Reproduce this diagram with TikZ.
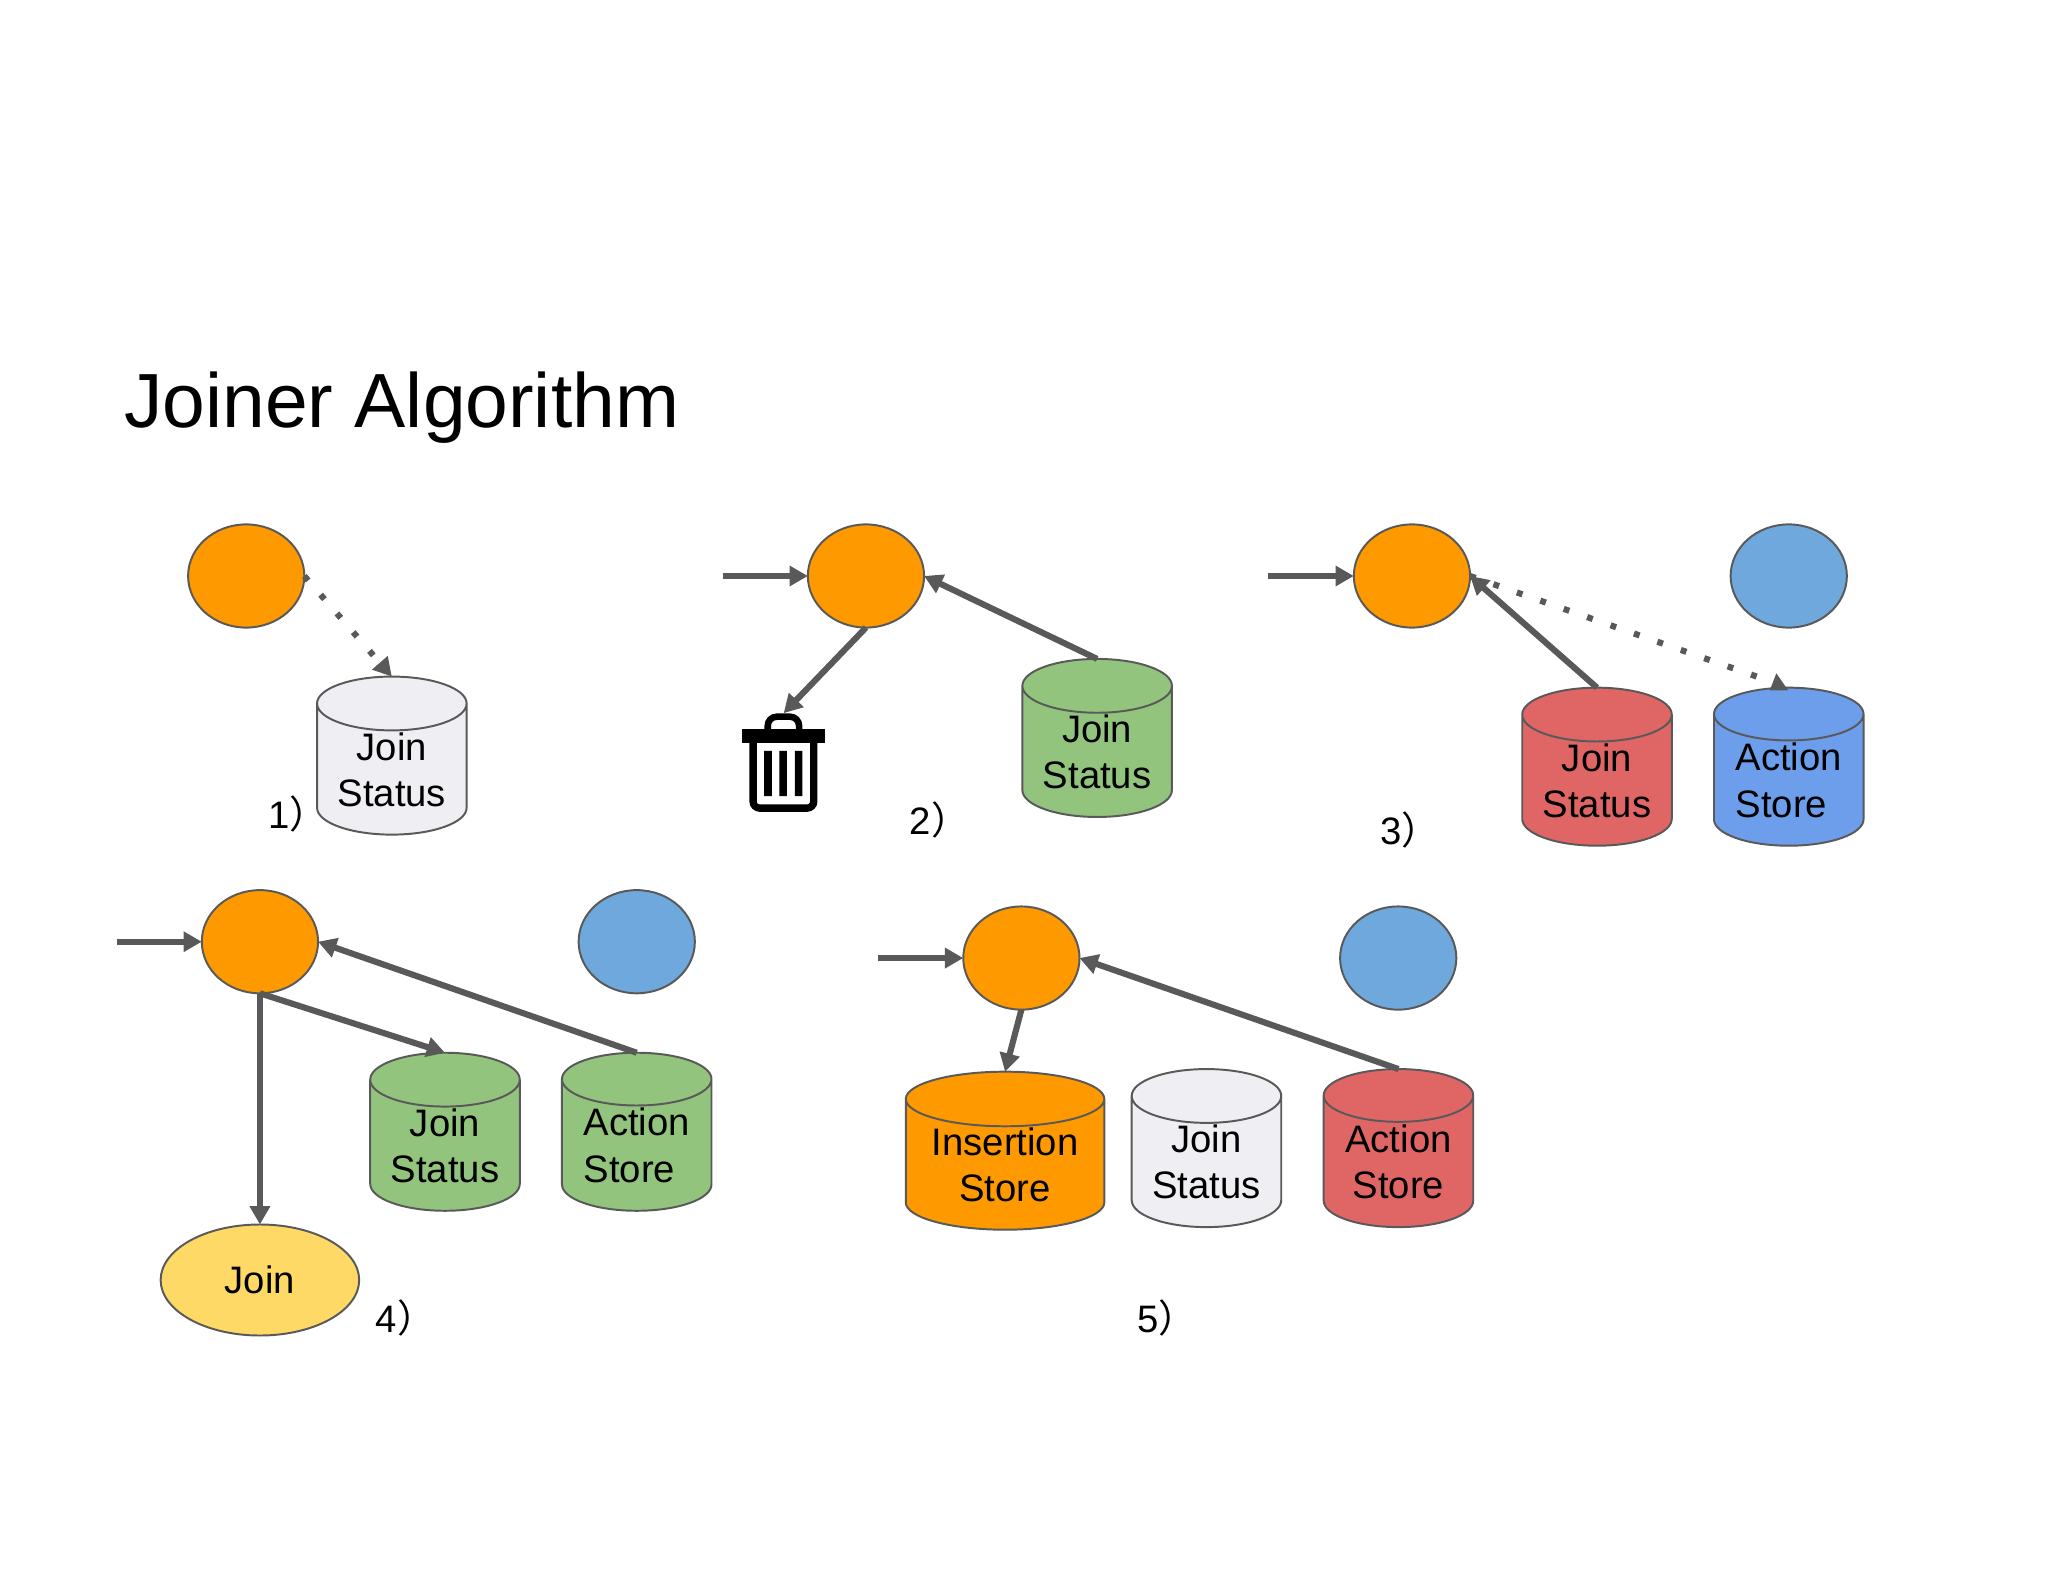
\documentclass[tikz,border=0pt]{standalone}
\usepackage{fontspec}
\setmainfont{Liberation Sans}
\newfontfamily\cjk{Noto Sans CJK SC}
\usetikzlibrary{arrows.meta,shapes.geometric,shapes.symbols}
\definecolor{linec}{HTML}{595959}
\definecolor{oran}{HTML}{FF9900}
\definecolor{greyf}{HTML}{EFEFF3}
\definecolor{greenf}{HTML}{93C47D}
\definecolor{redf}{HTML}{E06666}
\definecolor{bluef}{HTML}{6D9EEB}
\definecolor{circb}{HTML}{6FA8DC}
\definecolor{yelf}{HTML}{FFD966}
\tikzset{
  x=1pt,y=-1pt,
  lab/.style={font=\fontsize{29.3}{35.5}\selectfont,text=black},
  orb/.style={ellipse,draw=linec,line width=1.5pt,fill=#1,minimum width=89pt,minimum height=79pt,inner sep=0pt,outer sep=0pt},
  cyl/.style={cylinder,shape border rotate=90,aspect=0.496,draw=linec,line width=1.5pt,
    cylinder uses custom fill,cylinder body fill=#1,cylinder end fill=#1,
    minimum width=114.5pt,minimum height=121pt,inner sep=0pt,outer sep=0pt,anchor=shape center,
    lab,align=center},
  cylw/.style={cyl=#1,minimum width=152pt,aspect=0.372},
  conn/.style={draw=linec,line width=4.7pt,-{Triangle[length=14pt,width=15pt]}},
  dotc/.style={conn,dash pattern=on 4.5pt off 14.5pt},
  stepl/.style={anchor=base west,lab,inner sep=0pt},
}
\newcommand{\stepnum}[1]{#1{\cjk ）}}
\begin{document}
\begin{tikzpicture}
\useasboundingbox (0,0) rectangle (1568,1211.3);
\fill[white] (0,0) rectangle (1568,1211.3);
\node[anchor=base west,font=\fontsize{58.8}{60}\selectfont,inner sep=0pt] (title) at (95,327) {Joiner Algorithm};

% 1
\node[orb=oran] (e1) at (188.5,441) {};
\node[cyl=greyf] (c1) at (300,578.5) {Join\\Status};
\draw[dotc] (e1.east) -- (c1.north);
\node[stepl] (s1) at (205.5,634) {\stepnum{1}};

% 2
\node[orb=oran] (e2) at (663,441) {};
\node[cyl=greenf] (c2) at (840,565) {Join\\Status};
\coordinate (i2) at (553.5,441);
\coordinate (trash) at (600,546);
\draw[conn] (i2) -- (e2.west);
\draw[conn] (c2.north) -- (e2.east);
\draw[conn] (e2.south) -- (trash);
\fill[black] (568,558.5) rectangle (631.7,569.2);
\draw[black,line width=5pt,rounded corners=7pt] (587.8,560) -- (587.8,548.7) -- (611.8,548.7) -- (611.8,560);
\draw[black,line width=5.6pt,rounded corners=5pt] (576.6,566) -- (576.6,618.7) -- (623,618.7) -- (623,566);
\fill[black] (585,574.8) rectangle (590.9,609.5) (596.7,574.8) rectangle (602.4,609.5) (608.5,574.8) rectangle (614.3,609.5);
\node[stepl] (s2) at (696.5,638.6) {\stepnum{2}};

% 3
\node[orb=oran] (e3) at (1081,441) {};
\node[orb=circb] (b3) at (1369.5,441) {};
\node[cyl=redf] (c3a) at (1222.7,587) {Join\\Status};
\node[cyl=bluef,align=left] (c3b) at (1369.5,587) {Action\\Store};
\coordinate (i3) at (971,441);
\coordinate (d3) at (1345,518);
\draw[conn] (i3) -- (e3.west);
\draw[conn] (c3a.north) -- (e3.east);
\draw[draw=linec,line width=4.7pt,dash pattern=on 4.5pt off 14.5pt] (e3.east) -- (d3);
\fill[linec] (1360,515.5) -- (1369,528.5) -- (1355,528.5) -- cycle;
\node[stepl] (s3) at (1056.5,646.3) {\stepnum{3}};

% 4
\node[orb=oran] (e4) at (199,721) {};
\node[orb=circb] (b4) at (487.5,721) {};
\node[cyl=greenf] (c4a) at (340.7,866.5) {Join\\Status};
\node[cyl=greenf,align=left] (c4b) at (487.5,866.5) {Action\\Store};
\node[ellipse,draw=linec,line width=1.5pt,fill=yelf,minimum width=152pt,minimum height=85pt,inner sep=0pt,outer sep=0pt,lab] (j4) at (199,980) {Join};
\coordinate (i4) at (89.5,721);
\draw[conn] (i4) -- (e4.west);
\draw[conn] (c4b.north) -- (e4.east);
\draw[conn] (e4.south) -- (c4a.north);
\draw[conn] (e4.south) -- (j4.north);
\node[stepl] (s4) at (287.5,1020) {\stepnum{4}};

% 5
\node[orb=oran] (e5) at (782,733.5) {};
\node[orb=circb] (b5) at (1070.5,733.5) {};
\node[cylw=oran] (c5a) at (769.5,881) {Insertion\\Store};
\node[cyl=greyf] (c5b) at (923.7,879) {Join\\Status};
\node[cyl=redf] (c5c) at (1070.7,879) {Action\\Store};
\coordinate (i5) at (672.5,733.5);
\draw[conn] (i5) -- (e5.west);
\draw[conn] (c5c.north) -- (e5.east);
\draw[conn] (e5.south) -- (c5a.north);
\node[stepl] (s5) at (870.5,1020) {\stepnum{5}};
\end{tikzpicture}
\end{document}
